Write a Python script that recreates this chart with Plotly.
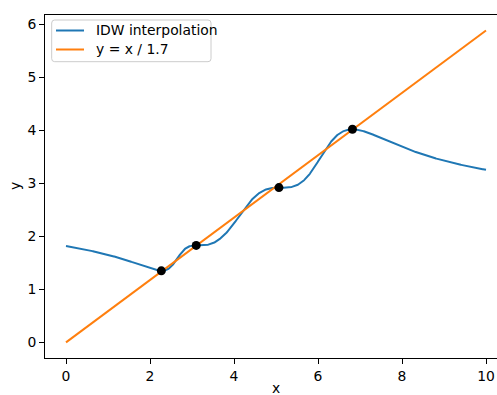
import numpy as np
import plotly.graph_objects as go

# Sample points used for inverse-distance-weighted interpolation
sample_x = [2.27, 3.10, 5.07, 6.82]
sample_y = [1.35, 1.83, 2.92, 4.02]

# Reference line y = x / 1.7 over the plotted span
line_x = [0.0, 10.0]
slope_div = 1.7
line_y = [v / slope_div for v in line_x]

idw_power = 2
grid_x = np.linspace(0, 10, 1001)


def idw(xq, xs, ys, p):
    xs = np.asarray(xs)
    ys = np.asarray(ys)
    out = np.empty_like(xq)
    for i, q in enumerate(xq):
        d = np.abs(xs - q)
        if np.any(d < 1e-12):
            out[i] = ys[np.argmin(d)]
        else:
            w = 1.0 / d ** p
            out[i] = np.sum(w * ys) / np.sum(w)
    return out


grid_y = idw(grid_x, sample_x, sample_y, idw_power)

W, H = 497, 395
ML, MR, MT, MB = 45, 0, 15, 37
PW, PH = W - ML - MR, H - MT - MB
FONT = "DejaVu Sans, sans-serif"
FS = 13.9


def px(X):
    return (X - ML) / PW


def py(Y):
    return (H - MB - Y) / PH


fig = go.Figure()
fig.add_trace(go.Scatter(x=grid_x, y=grid_y, mode="lines",
                         line=dict(color="#1f77b4", width=2), name="IDW interpolation"))
fig.add_trace(go.Scatter(x=line_x, y=line_y, mode="lines",
                         line=dict(color="#ff7f0e", width=2), name="y = x / 1.7"))
fig.add_trace(go.Scatter(x=sample_x, y=sample_y, mode="markers",
                         marker=dict(color="black", size=9, line=dict(width=0)),
                         showlegend=False))

# x-axis range: 0.5 padding on the left, plot runs off the right edge
x_lo = -0.5
x_hi = x_lo + PW * (10.5 - x_lo) / (507 - ML)
y_lo, y_hi = -0.294, 6.176

fig.update_layout(
    width=W, height=H,
    margin=dict(l=ML, r=MR, t=MT, b=MB, pad=0),
    paper_bgcolor="white", plot_bgcolor="white",
    showlegend=False,
    font=dict(family=FONT, size=FS, color="black"),
    xaxis=dict(range=[x_lo, x_hi], tickvals=[0, 2, 4, 6, 8, 10],
               showgrid=False, zeroline=False, showline=True, linecolor="black",
               linewidth=1, mirror=True, ticks="outside", ticklen=5, tickwidth=1,
               tickcolor="black", tickfont=dict(family=FONT, size=FS)),
    yaxis=dict(range=[y_lo, y_hi], tickvals=[0, 1, 2, 3, 4, 5, 6],
               showgrid=False, zeroline=False, showline=True, linecolor="black",
               linewidth=1, mirror=False, ticks="outside", ticklen=5, tickwidth=1,
               tickcolor="black", tickfont=dict(family=FONT, size=FS)),
)

# Axis titles
fig.add_annotation(text="x", xref="paper", yref="paper", x=px(276), y=py(388),
                   showarrow=False, xanchor="center", yanchor="middle",
                   font=dict(family=FONT, size=FS))
fig.add_annotation(text="y", xref="paper", yref="paper", x=px(15), y=py(186),
                   showarrow=False, xanchor="center", yanchor="middle", textangle=-90,
                   font=dict(family=FONT, size=FS))

# Legend frame with rounded corners
x0, x1, y0, y1 = 51.7, 211, 20, 61.7
r = 3
rx, ry = r / PW, r / PH
X0, X1, Y0, Y1 = px(x0), px(x1), py(y1), py(y0)
path = (f"M {X0+rx},{Y0} L {X1-rx},{Y0} Q {X1},{Y0} {X1},{Y0+ry} "
        f"L {X1},{Y1-ry} Q {X1},{Y1} {X1-rx},{Y1} "
        f"L {X0+rx},{Y1} Q {X0},{Y1} {X0},{Y1-ry} "
        f"L {X0},{Y0+ry} Q {X0},{Y0} {X0+rx},{Y0} Z")
fig.add_shape(type="path", path=path, xref="paper", yref="paper",
              fillcolor="rgba(255,255,255,0.8)", line=dict(color="#cccccc", width=1))

legend_items = [("IDW interpolation", "#1f77b4", 30.5), ("y = x / 1.7", "#ff7f0e", 49.5)]
for label, color, ly in legend_items:
    fig.add_shape(type="line", xref="paper", yref="paper",
                  x0=px(56), x1=px(84), y0=py(ly), y1=py(ly),
                  line=dict(color=color, width=2))
    fig.add_annotation(text=label, xref="paper", yref="paper", x=px(94), y=py(ly),
                       showarrow=False, xanchor="left", yanchor="middle",
                       font=dict(family=FONT, size=FS))

fig.write_html("out.html")
